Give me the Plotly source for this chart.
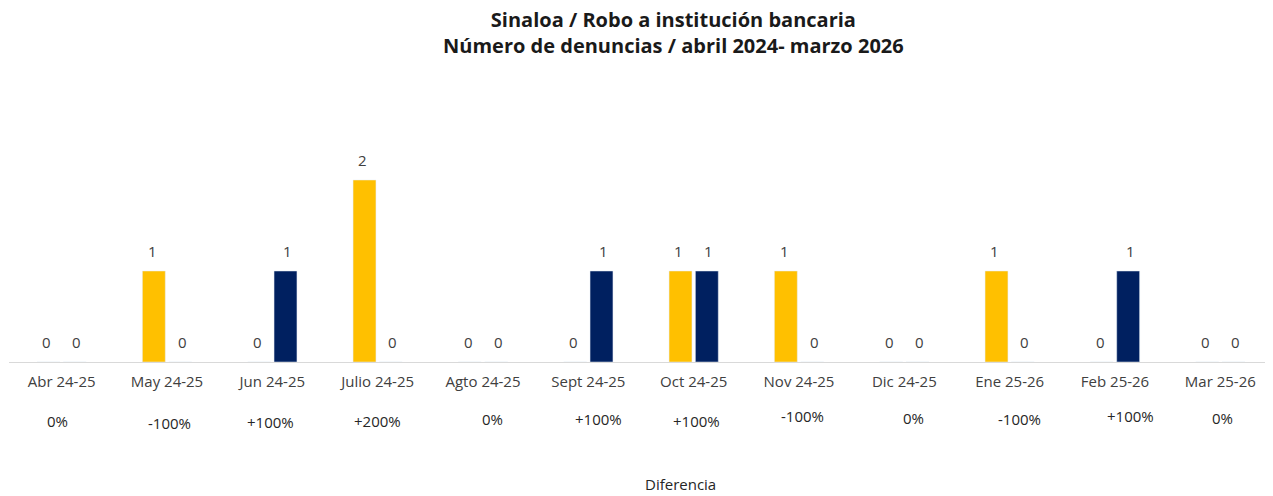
import plotly.graph_objects as go

categories = ["Abr 24-25", "May 24-25", "Jun 24-25", "Julio 24-25", "Agto 24-25", "Sept 24-25",
              "Oct 24-25", "Nov 24-25", "Dic 24-25", "Ene 25-26", "Feb 25-26", "Mar 25-26"]
serie_2024_25 = [0, 1, 0, 2, 0, 0, 1, 1, 0, 1, 0, 0]
serie_2025_26 = [0, 0, 1, 0, 0, 1, 1, 0, 0, 0, 1, 0]
diferencias = ["0%", "-100%", "+100%", "+200%", "0%", "+100%",
               "+100%", "-100%", "0%", "-100%", "+100%", "0%"]

# small label nudges in pixels (layout only)
pct_dx = [-4, 2, -2, 0, 9, 10, 3, 3, 9, 10, 15, 2]
pct_dy = [-59, -61, -60, -59, -57, -57, -59, -54, -56, -57, -54, -56]

YELLOW = "#FFC000"
NAVY = "#002060"
FONT = "Open Sans, Lato, sans-serif"
TXT = "#404040"

fig = go.Figure()
fig.add_trace(go.Bar(x=categories, y=serie_2024_25, name="2024-25", marker_color=YELLOW))
fig.add_trace(go.Bar(x=categories, y=serie_2025_26, name="2025-26", marker_color=NAVY))

annotations = []
for i, c in enumerate(categories):
    for v, sh in ((serie_2024_25[i], -15), (serie_2025_26[i], 15)):
        annotations.append(dict(x=c, y=v, xref="x", yref="y", text=str(v), showarrow=False,
                                xshift=sh, yshift=8, yanchor="bottom",
                                font=dict(family=FONT, size=15, color=TXT)))
    annotations.append(dict(x=c, y=0, xref="x", yref="y", text=diferencias[i], showarrow=False,
                            xshift=pct_dx[i], yshift=pct_dy[i], yanchor="middle",
                            font=dict(family=FONT, size=15, color="#262626")))

annotations.append(dict(x=0.531, y=-0.447, xref="paper", yref="paper", text="Diferencia",
                        showarrow=False, yanchor="middle",
                        font=dict(family=FONT, size=15, color="#262626")))

fig.update_layout(
    width=1265, height=488,
    margin=dict(l=1, r=0, t=81, b=134),
    paper_bgcolor="white", plot_bgcolor="white",
    title=dict(text="<b>Sinaloa / Robo a institución bancaria<br>Número de denuncias / abril 2024- marzo 2026</b>",
               x=0.526, xanchor="center", y=0.962, yanchor="top",
               font=dict(family=FONT, size=20, color="#1a1a1a")),
    showlegend=False,
    bargap=0.5, bargroupgap=0.13,
    xaxis=dict(showline=True, linecolor="#d9d9d9", linewidth=1, ticks="", showgrid=False,
               ticklabelstandoff=6,
               tickfont=dict(family=FONT, size=15, color=TXT)),
    yaxis=dict(range=[0, 3], visible=False, showgrid=False, zeroline=False),
    annotations=annotations,
)

fig.write_html("out.html")
